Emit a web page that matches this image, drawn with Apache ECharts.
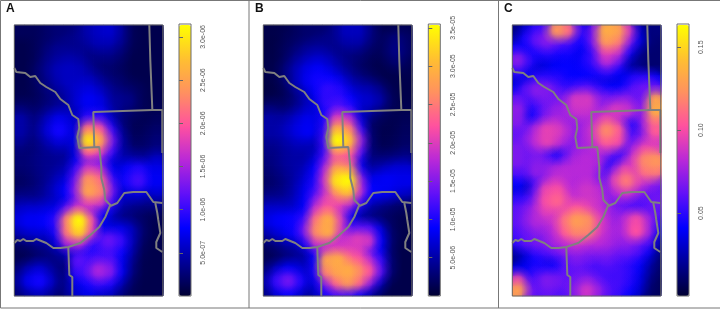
<!DOCTYPE html>
<html><head><meta charset="utf-8">
<style>html,body{margin:0;padding:0;background:#fff}#c{width:720px;height:309px}</style>
<script src="https://cdn.jsdelivr.net/npm/echarts@6/dist/echarts.min.js"></script>
</head><body><div id="c"></div>
<script>
// Values, rows top to bottom, columns left to right
const unitA = 1e-8, maxA = 3.15e-6;
const valuesA = [
[15,15,15,20,25,25,30,45,55,60,40,15,10,10,10],
[10,10,15,20,25,30,35,40,50,50,35,15,10,10,10],
[10,10,15,25,35,35,35,30,35,35,25,12,10,10,10],
[10,10,15,30,40,45,40,30,25,25,18,10,10,10,10],
[10,10,20,35,50,55,50,35,25,20,15,10,10,10,10],
[10,10,18,30,45,55,55,50,35,25,20,12,10,10,10],
[10,10,15,25,35,45,60,65,50,35,25,20,15,10,10],
[12,12,15,22,30,40,60,75,65,40,35,30,15,10,10],
[25,20,20,30,40,45,50,70,70,45,30,20,15,10,12],
[45,30,30,50,70,60,45,100,100,55,25,15,12,12,15],
[45,30,35,60,85,65,60,215,190,95,35,15,12,15,20],
[35,25,30,45,60,55,70,295,240,130,45,18,15,18,25],
[25,22,28,35,40,40,65,195,170,100,45,25,20,22,30],
[25,25,30,35,35,40,70,110,110,60,50,45,40,40,55],
[20,22,28,35,40,50,100,170,150,75,60,75,90,70,70],
[15,18,25,35,50,65,125,235,205,105,65,85,105,75,75],
[20,22,28,40,60,80,140,250,225,130,60,60,65,50,60],
[35,35,35,45,55,70,115,180,170,100,50,40,35,30,35],
[55,60,60,65,70,120,180,120,85,60,35,25,20,15,15],
[65,75,75,80,100,220,310,190,75,45,35,30,20,12,10],
[45,55,60,60,90,215,280,180,70,70,70,55,25,12,10],
[20,25,35,40,65,150,160,100,100,120,100,55,20,10,10],
[10,12,18,25,35,50,70,85,90,100,80,45,15,10,10],
[12,15,25,30,30,30,115,100,110,110,70,35,12,10,10],
[25,45,60,40,22,30,95,110,150,130,75,30,12,10,10],
[35,70,85,55,22,35,70,85,100,90,50,20,10,10,10],
[25,40,50,35,18,35,60,70,60,55,30,15,10,10,10]];
const unitB = 1e-7, maxB = 3.55e-5;
const valuesB = [
[10,10,12,18,25,25,25,40,60,60,35,15,10,12,15],
[8,8,15,20,25,30,35,40,50,50,30,18,20,30,20],
[8,10,18,28,40,45,40,35,35,30,20,15,20,35,20],
[10,10,20,40,55,65,55,40,30,22,15,10,15,25,15],
[10,12,30,55,75,85,70,50,35,22,15,10,10,12,12],
[8,10,25,55,80,95,90,75,50,35,25,15,10,10,10],
[5,8,15,35,60,85,110,100,70,55,50,35,15,10,10],
[10,12,18,30,50,75,110,110,90,70,65,50,20,10,10],
[30,25,25,40,60,70,95,130,110,65,45,25,15,12,12],
[50,45,50,65,80,70,100,200,170,70,25,15,12,12,15],
[50,50,60,75,85,65,110,285,245,110,25,12,10,12,18],
[40,40,50,60,60,55,120,350,300,160,30,12,12,15,20],
[35,35,45,50,50,55,110,245,230,125,30,15,15,18,25],
[30,35,45,50,50,70,130,210,200,75,35,30,30,35,40],
[25,30,40,50,60,90,170,280,260,100,45,50,60,70,70],
[20,25,35,50,70,100,190,330,350,160,70,80,85,80,80],
[25,28,38,55,80,110,170,260,300,180,90,85,80,65,60],
[40,40,45,60,85,140,200,210,190,110,60,45,35,25,25],
[65,65,65,70,90,185,230,170,100,55,35,25,20,15,12],
[75,85,90,95,120,240,290,200,80,50,40,30,20,12,10],
[50,65,80,95,150,260,290,190,115,130,125,75,25,12,10],
[25,35,50,60,100,190,190,170,180,200,190,90,30,10,10],
[12,18,28,35,50,100,170,200,200,190,120,80,25,10,10],
[15,20,35,45,50,90,280,290,240,220,170,110,30,10,10],
[30,60,85,70,55,100,250,280,290,260,220,130,30,10,10],
[50,110,140,100,60,75,150,230,270,230,150,60,15,10,10],
[35,70,90,65,40,60,100,120,120,90,55,25,10,10,10]];
const unitC = 1e-3, maxC = 0.164;
const valuesC = [
[15,30,50,55,125,110,55,35,70,135,130,90,30,12,15],
[22,45,60,70,60,55,45,45,70,125,115,70,35,15,12],
[45,40,45,50,45,45,38,38,55,95,85,45,20,12,12],
[70,50,35,35,38,40,38,45,55,80,60,25,15,12,12],
[50,35,30,35,40,42,40,42,45,50,40,25,18,12,12],
[30,35,50,50,48,42,42,38,34,32,32,38,48,50,40],
[38,58,70,68,55,50,55,60,50,42,40,45,60,65,65],
[62,52,55,65,65,68,90,90,70,65,65,70,60,65,130],
[72,38,45,62,72,75,85,85,75,75,90,85,68,72,135],
[70,38,48,68,78,72,72,75,80,95,75,48,42,75,110],
[62,60,78,95,90,78,68,78,90,120,105,58,38,68,105],
[62,68,82,95,82,72,68,78,85,105,100,62,58,75,88],
[68,62,68,52,35,52,72,78,80,70,55,50,78,98,92],
[68,62,68,58,42,62,78,82,78,45,42,62,92,120,125],
[58,58,72,72,78,82,82,82,68,45,68,95,88,112,115],
[42,28,52,72,85,82,78,82,68,55,92,115,92,78,68],
[35,20,58,95,100,82,82,88,82,60,78,88,72,62,62],
[50,50,68,100,108,90,82,88,85,68,65,60,55,55,65],
[60,65,78,92,90,95,105,95,85,75,65,60,58,60,60],
[60,68,80,78,88,112,128,122,95,78,70,80,98,75,50],
[55,62,68,72,82,105,118,118,90,80,75,80,102,75,38],
[50,60,65,68,78,82,88,82,82,78,72,72,65,55,22],
[22,32,50,55,60,68,72,68,68,68,62,62,55,38,15],
[12,32,42,32,38,55,65,60,55,60,55,50,42,25,12],
[38,38,48,48,44,60,60,55,55,55,55,50,38,20,10],
[95,48,58,68,65,60,65,70,60,55,55,48,35,15,8],
[130,68,58,62,58,58,70,88,72,58,52,42,30,12,8]];

const ticksA = [5e-7,1e-6,1.5e-6,2e-6,2.5e-6,3e-6];
const tickLabelsA = ['5.0e-07','1.0e-06','1.5e-06','2.0e-06','2.5e-06','3.0e-06'];
const ticksB = [5e-6,1e-5,1.5e-5,2e-5,2.5e-5,3e-5,3.5e-5];
const tickLabelsB = ['5.0e-06','1.0e-05','1.5e-05','2.0e-05','2.5e-05','3.0e-05','3.5e-05'];
const ticksC = [0.05,0.10,0.15];
const tickLabelsC = ['0.05','0.10','0.15'];
const panelLetters = ['A','B','C'];

// Boundary lines, in map units measured across the plot (x right, y down)
const borderRiver = [[0,43],[2,47],[11,48],[16,52],[21,51],[26,58],[32,62],[41,67],[46,74],[54,80],[58,90],[64,94],[65,103],[63,112],[65,123],[85,122],[87,142],[87,153],[90,165],[91,175],[96,180],[96,181],[91,192],[85,202],[76,210],[66,218],[54,222],[46,223],[39,223],[32,218],[22,214],[19,216],[12,216],[9,214],[6,216],[3,215],[0,218]];
const borderNorth = [[135,0],[136,35],[138,84]];
const borderBlock = [[80,122],[79,87],[138,85],[148,85],[148,128]];
const borderSouth = [[54,222],[55,250],[58,252],[58,271]];
const borderEast = [[96,181],[103,178],[110,168],[119,167],[132,167],[139,177],[148,178]];
const borderSpur = [[141,178],[143,188],[144,195],[146,208],[142,217],[142,223],[148,227]];
const borders = [borderRiver,borderNorth,borderBlock,borderSouth,borderEast,borderSpur];

const palette = ['#000033','#000099','#0000ff','#6010f8','#b828d8','#ff50a0','#ff9060','#ffc030','#ffff00'];
const panels = [
 {v:valuesA,u:unitA,max:maxA,t:ticksA,l:tickLabelsA,px:14.3,bx:179},
 {v:valuesB,u:unitB,max:maxB,t:ticksB,l:tickLabelsB,px:263.3,bx:428.3},
 {v:valuesC,u:unitC,max:maxC,t:ticksC,l:tickLabelsC,px:512.3,bx:677}
];
const plotTop=25, plotW=148.5, plotH=271, barW=12;
const rows=valuesA.length, cols=valuesA[0].length;
const colIdx=Array.from({length:cols},(_,i)=>i), rowIdx=Array.from({length:rows},(_,i)=>i);

const grid=[],xAxis=[],yAxis=[],series=[],visualMap=[],title=[],graphic=[];
panels.forEach((p,k)=>{
  const g=grid.length;
  grid.push({left:p.px,top:plotTop,width:plotW,height:plotH,show:false});
  const xc=xAxis.length; xAxis.push({type:'category',gridIndex:g,data:colIdx,show:false});
  const yc=yAxis.length; yAxis.push({type:'category',gridIndex:g,data:rowIdx,inverse:true,show:false});
  const xv=xAxis.length; xAxis.push({type:'value',gridIndex:g,min:0,max:plotW,show:false});
  const yv=yAxis.length; yAxis.push({type:'value',gridIndex:g,min:0,max:plotH,inverse:true,show:false});
  const data=[];
  p.v.forEach((row,j)=>row.forEach((val,i)=>data.push([i,j,val*p.u])));
  const hi=series.length;
  series.push({type:'heatmap',xAxisIndex:xc,yAxisIndex:yc,data,progressive:0,silent:true,z:1});
  // soft blobs drawn low values first so that peaks stay on top
  series.push({type:'custom',xAxisIndex:xc,yAxisIndex:yc,data:data.slice().sort((a,b)=>a[2]-b[2]),clip:true,silent:true,z:2,progressive:0,
    encode:{x:0,y:1},
    renderItem:(params,api)=>{
      const c=api.coord([api.value(0),api.value(1)]);
      const s=api.size([1,1]);
      const r=1.6*Math.max(s[0],s[1]);
      const col=api.visual('color');
      return {type:'circle',shape:{cx:c[0],cy:c[1],r},style:{fill:{type:'radial',x:.5,y:.5,r:.5,colorStops:[
        {offset:0,color:col},{offset:.3,color:echarts.color.modifyAlpha(col,.75)},{offset:.65,color:echarts.color.modifyAlpha(col,.25)},{offset:1,color:echarts.color.modifyAlpha(col,0)}]}},silent:true};
    }});
  borders.forEach(b=>series.push({type:'line',xAxisIndex:xv,yAxisIndex:yv,data:b,showSymbol:false,symbol:'none',silent:true,z:5,
    lineStyle:{color:'#808080',width:2},clip:true}));
  visualMap.push({type:'continuous',min:0,max:p.max,dimension:2,seriesIndex:[hi,hi+1],calculable:false,realtime:false,
    left:p.bx,top:plotTop,itemWidth:barW,itemHeight:plotH,padding:0,text:null,showLabel:false,hoverLink:false,inRange:{color:palette},
    textStyle:{color:'transparent',fontSize:1}});
  const gb=grid.length;
  grid.push({left:p.bx,top:plotTop-1,width:barW,height:plotH+1,show:true,z:10,borderColor:'#6f6f6f',borderWidth:1,backgroundColor:'transparent'});
  xAxis.push({type:'value',gridIndex:gb,show:false,min:0,max:1});
  yAxis.push({type:'value',gridIndex:gb,position:'right',min:0,max:p.max,z:10,
    axisLine:{show:false},splitLine:{show:false},
    axisTick:{show:true,length:4,customValues:p.t,lineStyle:{color:'#666',width:1}},
    axisLabel:{show:true,customValues:p.t,rotate:90,margin:9,fontSize:7,color:'#555',fontFamily:'Liberation Sans',
      formatter:v=>{const i=p.t.indexOf(v);return i<0?'':p.l[i];}}});
  title.push({text:panelLetters[k],left:p.px-8.3,top:3,padding:0,textStyle:{fontSize:12,fontWeight:'bold',color:'#111',fontFamily:'Liberation Sans'}});
  graphic.push({type:'rect',shape:{x:p.px,y:plotTop,width:plotW,height:plotH},style:{fill:'none',stroke:'#666',lineWidth:1},z:20,silent:true});
});
// panel frame
[[0.5,0.5,0.5,308],[0.5,0.5,720,0.5],[0.5,308,720,308],[249,0,249,308],[498.5,0,498.5,308]].forEach(l=>
  graphic.push({type:'line',shape:{x1:l[0],y1:l[1],x2:l[2],y2:l[3]},style:{stroke:'#777',lineWidth:1},z:20,silent:true}));

const chart=echarts.init(document.getElementById('c'),null,{renderer:'canvas'});
chart.setOption({animation:false,backgroundColor:'#fff',title,grid,xAxis,yAxis,visualMap,series,graphic,tooltip:{show:false}});
</script></body></html>
